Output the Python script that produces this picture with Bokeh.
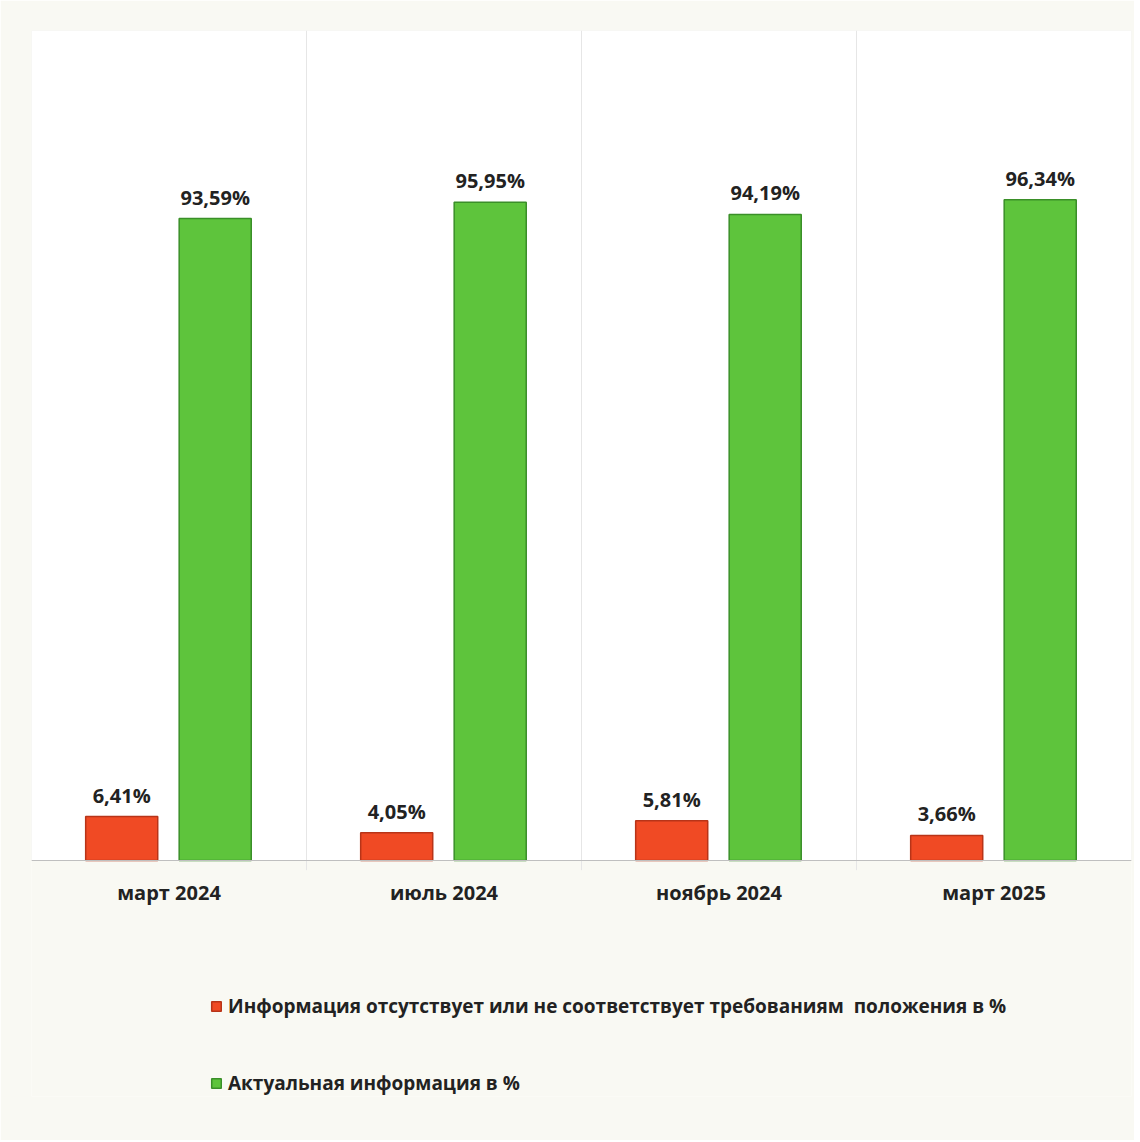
from bokeh.plotting import figure
from bokeh.models import (Range1d, FactorRange, Legend, LegendItem, ColumnDataSource,
                          BoxAnnotation)
from bokeh.transform import dodge
from bokeh.core.properties import value
from bokeh.embed import file_html
from bokeh.resources import INLINE

categories = ["март 2024", "июль 2024", "ноябрь 2024", "март 2025"]
missing = [6.41, 4.05, 5.81, 3.66]
actual = [93.59, 95.95, 94.19, 96.34]
missing_labels = ["6,41%", "4,05%", "5,81%", "3,66%"]
actual_labels = ["93,59%", "95,95%", "94,19%", "96,34%"]
series_names = [
    "Информация отсутствует или не соответствует требованиям  положения в %",
    "Актуальная информация в %",
]

RED, RED_EDGE = "#f04a24", "#b83418"
GREEN, GREEN_EDGE = "#5ec43c", "#3a8f28"
TEXT = "#222222"
CREAM = "#f9f9f3"
FONT = "Open Sans"

src = ColumnDataSource(dict(cat=categories, missing=missing, actual=actual,
                            ml=missing_labels, al=actual_labels))
sep = ColumnDataSource(dict(cat=categories[:-1]))

p = figure(x_range=FactorRange(*categories), y_range=Range1d(-34.4, 121),
           width=1134, height=1140, output_backend="svg", toolbar_location=None,
           y_axis_location=None,
           min_border_left=31, min_border_right=3, min_border_top=30, min_border_bottom=44)

p.border_fill_color = CREAM
p.background_fill_color = CREAM
p.outline_line_color = None
p.xgrid.visible = False
p.ygrid.visible = False

# white plot area above the baseline
p.add_layout(BoxAnnotation(bottom=0, fill_color="#ffffff", fill_alpha=1,
                           line_color="#dddddd", line_width=1, level="underlay"))

# category separators with small ticks below the baseline
p.segment(x0=dodge("cat", 0.5, range=p.x_range), x1=dodge("cat", 0.5, range=p.x_range),
          y0=-1.4, y1=121, source=sep, line_color="#e6e6e6", line_width=1)

r1 = p.vbar(x=dodge("cat", -0.172, range=p.x_range), top="missing", width=0.262, source=src,
            fill_color=RED, line_color=RED_EDGE, line_width=1.5)
r2 = p.vbar(x=dodge("cat", 0.168, range=p.x_range), top="actual", width=0.262, source=src,
            fill_color=GREEN, line_color=GREEN_EDGE, line_width=1.5)

for xoff, ycol, tcol in [(-0.172, "missing", "ml"), (0.168, "actual", "al")]:
    p.text(x=dodge("cat", xoff, range=p.x_range), y=ycol, text=tcol, source=src,
           text_align="center", text_baseline="bottom", y_offset=-8,
           text_font=value(FONT), text_font_style="bold", text_font_size="20px",
           text_color=TEXT)

ax = p.xaxis[0]
ax.fixed_location = 0
ax.axis_line_color = "#bfbfbf"
ax.major_tick_line_color = None
ax.minor_tick_line_color = None
ax.major_label_standoff = 12
ax.major_label_text_font = FONT
ax.major_label_text_font_style = "bold"
ax.major_label_text_font_size = "20px"
ax.major_label_text_color = TEXT

legend = Legend(
    items=[LegendItem(label=series_names[0], renderers=[r1]),
           LegendItem(label=series_names[1], renderers=[r2])],
    location=(179, 0), orientation="vertical", spacing=51, padding=0, margin=0,
    border_line_color=None, background_fill_alpha=0,
    glyph_width=12, glyph_height=12, label_height=20, label_standoff=6,
    label_text_font=FONT, label_text_font_style="bold", label_text_font_size="19px",
    label_text_color=TEXT,
)
p.add_layout(legend, "center")

open("out.html", "w").write(file_html(p, INLINE))
